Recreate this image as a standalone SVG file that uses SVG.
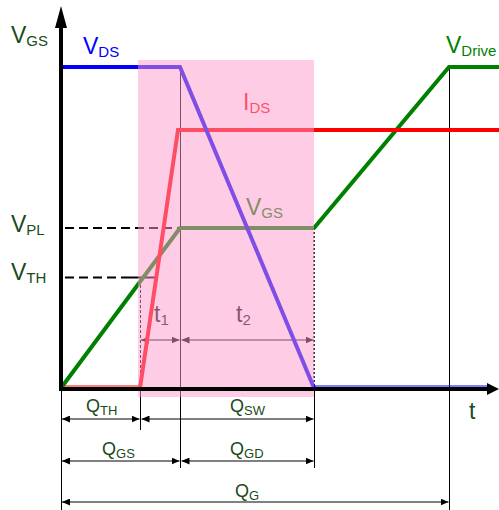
<svg xmlns="http://www.w3.org/2000/svg" width="499" height="510" viewBox="0 0 499 510">
<style>
text{font-family:"Liberation Sans",Arial,sans-serif}
.big{font-size:23px}
.sub{font-size:15px}
.q{font-size:18px}
.qs{font-size:13px}
.dg{fill:#1a4a1a}
.thin{stroke:#000;stroke-width:1;fill:none}
.dim{stroke:#000;stroke-width:1;fill:none;marker-start:url(#ah);marker-end:url(#ah)}
.dash{stroke:#000;stroke-width:2;stroke-dasharray:9 5;fill:none}
.curve{fill:none;stroke-width:4;stroke-linejoin:miter}
</style>
<defs>
<marker id="ah" markerWidth="8" markerHeight="7" refX="8" refY="3.5" orient="auto-start-reverse" markerUnits="userSpaceOnUse">
<path d="M0,0 L8,3.5 L0,7 z" fill="#000"/>
</marker>
</defs>
<rect width="499" height="510" fill="#fff"/>

<g id="guides">
<path class="dash" d="M65,228 H180"/>
<path class="dash" d="M65,277.5 H127"/>
<path d="M127,277.5 H155" stroke="#000" stroke-width="2"/>
<path d="M140.5,280 V388" stroke="#000" stroke-width="1" stroke-dasharray="3 2"/>
<path d="M314,228 V388" stroke="#000" stroke-width="1.5" stroke-dasharray="2 2"/>
<path class="thin" d="M61.5,391 V510"/>
<path class="thin" d="M140.5,391 V430"/>
<path class="thin" d="M180.5,67 V468"/>
<path class="thin" d="M314.5,391 V468"/>
<path class="thin" d="M449.5,67 V510"/>
</g>

<g id="connectors">
<path class="dim" d="M141,340 H179.5"/>
<path class="dim" d="M181.5,340 H313.5"/>
<path class="dim" d="M62,419 H139.5"/>
<path class="dim" d="M141.5,419 H313.5"/>
<path class="dim" d="M62,461 H179.5"/>
<path class="dim" d="M181.5,461 H313.5"/>
<path class="dim" d="M62,502 H448.5"/>
</g>

<g id="waveforms">
<path d="M61,386 H140" stroke="#ff0000" stroke-width="1.2" fill="none"/>
<path d="M314,386 H490" stroke="#0000ff" stroke-width="1.2" fill="none"/>
<path id="vgs-curve" class="curve" stroke="#008000" d="M61,388 L180,228 H314 L449,67 H499"/>
<path id="ids-curve" class="curve" stroke="#ff0000" d="M140,388 L178,130 H499"/>
<path id="vds-curve" class="curve" stroke="#0000ff" d="M61,67 H180 L314,388"/>
</g>

<g id="inner-labels">
<text x="243" y="110" class="big" fill="#ff0000">I<tspan class="sub" dy="3">DS</tspan></text>
<text x="246" y="215" class="big" fill="#008000">V<tspan class="sub" dy="3">GS</tspan></text>
<text x="154" y="322" class="big" fill="#111">t<tspan class="sub" dy="3">1</tspan></text>
<text x="236" y="322" class="big" fill="#111">t<tspan class="sub" dy="3">2</tspan></text>
</g>

<rect id="switching-region" x="138" y="60" width="176" height="337" fill="#ff99cc" fill-opacity="0.5"/>

<g id="axes">
<path d="M61,26 V391" stroke="#000" stroke-width="4"/>
<path d="M61,6 L67,28 L55,28 z" fill="#000"/>
<path d="M59,389 H489" stroke="#000" stroke-width="4"/>
<path d="M499,389 L487,383 L487,395 z" fill="#000"/>
</g>

<g id="labels">
<text x="11" y="43" class="big dg">V<tspan class="sub" dy="3">GS</tspan></text>
<text x="83" y="54" class="big" fill="#0000ff">V<tspan class="sub" dy="3">DS</tspan></text>
<text x="446" y="53" class="big" fill="#008000">V<tspan class="sub" dy="3">Drive</tspan></text>
<text x="11" y="232" class="big dg">V<tspan class="sub" dy="3">PL</tspan></text>
<text x="11" y="280" class="big dg">V<tspan class="sub" dy="3">TH</tspan></text>
<text x="469" y="419" class="big dg">t</text>
<text x="86" y="412" class="q dg">Q<tspan class="qs" dy="3">TH</tspan></text>
<text x="230" y="412" class="q dg">Q<tspan class="qs" dy="3">SW</tspan></text>
<text x="102" y="455" class="q dg">Q<tspan class="qs" dy="3">GS</tspan></text>
<text x="230" y="455" class="q dg">Q<tspan class="qs" dy="3">GD</tspan></text>
<text x="235" y="497" class="q dg">Q<tspan class="qs" dy="3">G</tspan></text>
</g>
</svg>
